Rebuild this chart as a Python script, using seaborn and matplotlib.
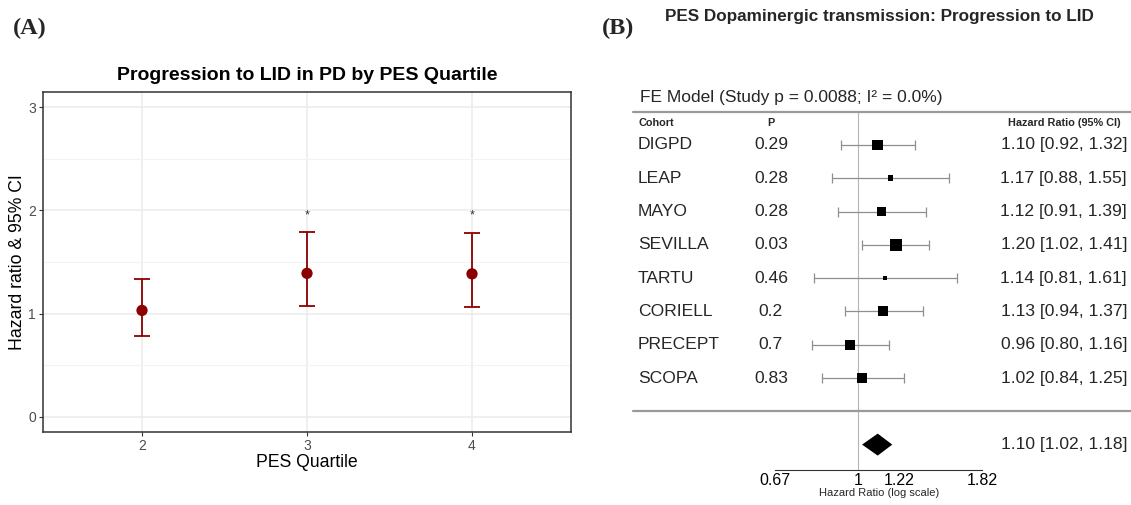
import numpy as np
import pandas as pd
import matplotlib
matplotlib.use("Agg")
import matplotlib.pyplot as plt
import matplotlib.transforms as mtransforms
import seaborn as sns

# ---------------- Panel A data ----------------
quartiles = [2, 3, 4]
hr_a = [1.03, 1.39, 1.385]
lo_a = [0.785, 1.075, 1.065]
hi_a = [1.335, 1.795, 1.785]
star_quartiles = [3, 4]
star_values = [2.0, 2.0]

# ---------------- Panel B data ----------------
cohorts = ["DIGPD", "LEAP", "MAYO", "SEVILLA", "TARTU", "CORIELL", "PRECEPT", "SCOPA"]
p_values = ["0.29", "0.28", "0.28", "0.03", "0.46", "0.2", "0.7", "0.83"]
hr_b = [1.10, 1.17, 1.12, 1.20, 1.14, 1.13, 0.96, 1.02]
lo_b = [0.92, 0.88, 0.91, 1.02, 0.81, 0.94, 0.80, 0.84]
hi_b = [1.32, 1.55, 1.39, 1.41, 1.61, 1.37, 1.16, 1.25]
summary_hr = 1.10
summary_lo = 1.02
summary_hi = 1.18
axis_ticks = [0.67, 0.82, 1.0, 1.22, 1.49, 1.82]
axis_labels = ["0.67", "", "1", "1.22", "", "1.82"]

sns.set_theme(style="white")
plt.rcParams["font.family"] = ["Liberation Sans", "DejaVu Sans"]

W, H = 1131, 505
fig = plt.figure(figsize=(W / 100, H / 100), dpi=100)
fig.patch.set_facecolor("white")

DARKRED = "#8B0000"

# ================= Panel A =================
axA = fig.add_axes([43 / W, (H - 432) / H, 528 / W, 340 / H])
dfA = pd.DataFrame({"quartile": quartiles, "hr": hr_a, "lo": lo_a, "hi": hi_a})

axA.set_xlim(1.4, 4.6)
axA.set_ylim(-0.15, 3.15)
axA.set_xticks(quartiles)
axA.set_xticklabels([str(q) for q in quartiles])
axA.set_yticks([0, 1, 2, 3])
axA.set_yticks([0.5, 1.5, 2.5], minor=True)
axA.grid(which="major", color="#EBEBEB", lw=1.1)
axA.grid(which="minor", axis="y", color="#F3F3F3", lw=0.8)
axA.set_axisbelow(True)

axA.errorbar(dfA["quartile"], dfA["hr"],
             yerr=[dfA["hr"] - dfA["lo"], dfA["hi"] - dfA["hr"]],
             fmt="none", ecolor=DARKRED, elinewidth=1.3, capsize=5.8, capthick=1.3, zorder=2)
sns.scatterplot(data=dfA, x="quartile", y="hr", color=DARKRED, s=66,
                edgecolor="none", ax=axA, zorder=3, legend=False)
for q, v in zip(star_quartiles, star_values):
    axA.text(q, v - 0.05, "*", ha="center", va="center", fontsize=9, color="#333333")

for sp in axA.spines.values():
    sp.set_color("#333333")
    sp.set_linewidth(1.1)
axA.tick_params(axis="both", which="major", length=2.9, width=0.8, color="#333333",
                labelcolor="#4D4D4D", labelsize=10, pad=2.2, bottom=True, left=True)
axA.tick_params(axis="both", which="minor", length=0, left=False)
axA.set_xlabel("PES Quartile", fontsize=12.7, color="black", labelpad=1)
axA.set_ylabel("Hazard ratio & 95% CI", fontsize=12.7, color="black", labelpad=1.5)
axA.set_title("Progression to LID in PD by PES Quartile", fontsize=14, fontweight="bold",
              color="black", pad=8.5)

fig.text(13 / W, 1 - 28 / H, "(A)", family="Liberation Serif", fontweight="bold",
         fontsize=17.5, ha="left", va="center")

# ================= Panel B =================
axB = fig.add_axes([600 / W, 0, 531 / W, 420 / H])
axB.set_xscale("log")
axB.set_xlim(0.2876, 3.739)
axB.set_ylim(-2.814, 9.80)
axB.patch.set_alpha(0)

k = len(cohorts)
rows = np.arange(k, 0, -1)
axis_row = -1.76
dfB = pd.DataFrame({"cohort": cohorts, "hr": hr_b, "lo": lo_b, "hi": hi_b, "row": rows})

# weights as in metafor (inverse standard error), square side linear in weight
se = (np.log(dfB["hi"]) - np.log(dfB["lo"])) / (2 * 1.96)
wi = 1 / se
psize = (wi - wi.min()) / (wi.max() - wi.min()) + 0.5
side_pt = 8 * psize * 0.72
areas = side_pt ** 2

axB.errorbar(dfB["hr"], dfB["row"], xerr=[dfB["hr"] - dfB["lo"], dfB["hi"] - dfB["hr"]],
             fmt="none", ecolor="#8f8f8f", elinewidth=0.9, capsize=3.6, capthick=0.9, zorder=2)
sns.scatterplot(x=dfB["hr"], y=dfB["row"], marker="s", s=areas, color="black",
                edgecolor="none", ax=axB, zorder=3, legend=False)

# summary diamond
axB.fill([summary_lo, summary_hr, summary_hi, summary_hr], [-1, -1 + 0.33, -1, -1 - 0.33],
         color="black", lw=0, zorder=3)

# reference line and separators
axB.vlines(1, axis_row, 9, color="#b5b5b5", lw=0.8, zorder=1)
axB.axhline(9, xmin=0.062, xmax=1, color="#9a9a9a", lw=1.6)
axB.axhline(0, xmin=0.062, xmax=1, color="#9a9a9a", lw=1.6)

# axis
for name in ["top", "left", "right"]:
    axB.spines[name].set_visible(False)
axB.spines["bottom"].set_position(("data", axis_row))
axB.spines["bottom"].set_bounds(axis_ticks[0], axis_ticks[-1])
axB.spines["bottom"].set_color("#333333")
axB.spines["bottom"].set_linewidth(0.8)
axB.set_xticks(axis_ticks)
axB.set_xticklabels(axis_labels)
axB.xaxis.set_minor_locator(matplotlib.ticker.NullLocator())
axB.set_yticks([])
axB.set_ylabel("")
axB.tick_params(axis="x", which="major", length=2.0, width=0.8, color="#333333",
                labelsize=11.5, labelcolor="black", pad=0, direction="out")
axB.set_xlabel("Hazard Ratio (log scale)", fontsize=8, labelpad=0)
axB.xaxis.label.set_x(0.525)

trans = mtransforms.blended_transform_factory(axB.transAxes, axB.transData)
axB.text(0.0753, 9.41, "FE Model (Study p = 0.0088; I² = 0.0%)", transform=trans,
         fontsize=12.5, ha="left", va="center")
axB.text(0.0716, 8.66, "Cohort", transform=trans, fontsize=7.8, fontweight="bold",
         ha="left", va="center")
axB.text(0.322, 8.66, "P", transform=trans, fontsize=7.8, fontweight="bold",
         ha="center", va="center")
axB.text(0.981, 8.66, "Hazard Ratio (95% CI)", transform=trans, fontsize=7.8,
         fontweight="bold", ha="right", va="center")
for name, p, h, l, u, r in zip(cohorts, p_values, hr_b, lo_b, hi_b, rows):
    axB.text(0.0716, r, name, transform=trans, fontsize=12.6, ha="left", va="center")
    axB.text(0.322, r, p, transform=trans, fontsize=12.6, ha="center", va="center")
    axB.text(0.9925, r, f"{h:.2f} [{l:.2f}, {u:.2f}]", transform=trans, fontsize=12.6,
             ha="right", va="center")
axB.text(0.9925, -1, f"{summary_hr:.2f} [{summary_lo:.2f}, {summary_hi:.2f}]",
         transform=trans, fontsize=12.6, ha="right", va="center")

fig.text(879 / W, 1 - 17 / H, "PES Dopaminergic transmission: Progression to LID",
         fontsize=12.3, fontweight="bold", ha="center", va="center")
fig.text(602 / W, 1 - 28 / H, "(B)", family="Liberation Serif", fontweight="bold",
         fontsize=17.5, ha="left", va="center")

fig.savefig("out.png", dpi=100)
